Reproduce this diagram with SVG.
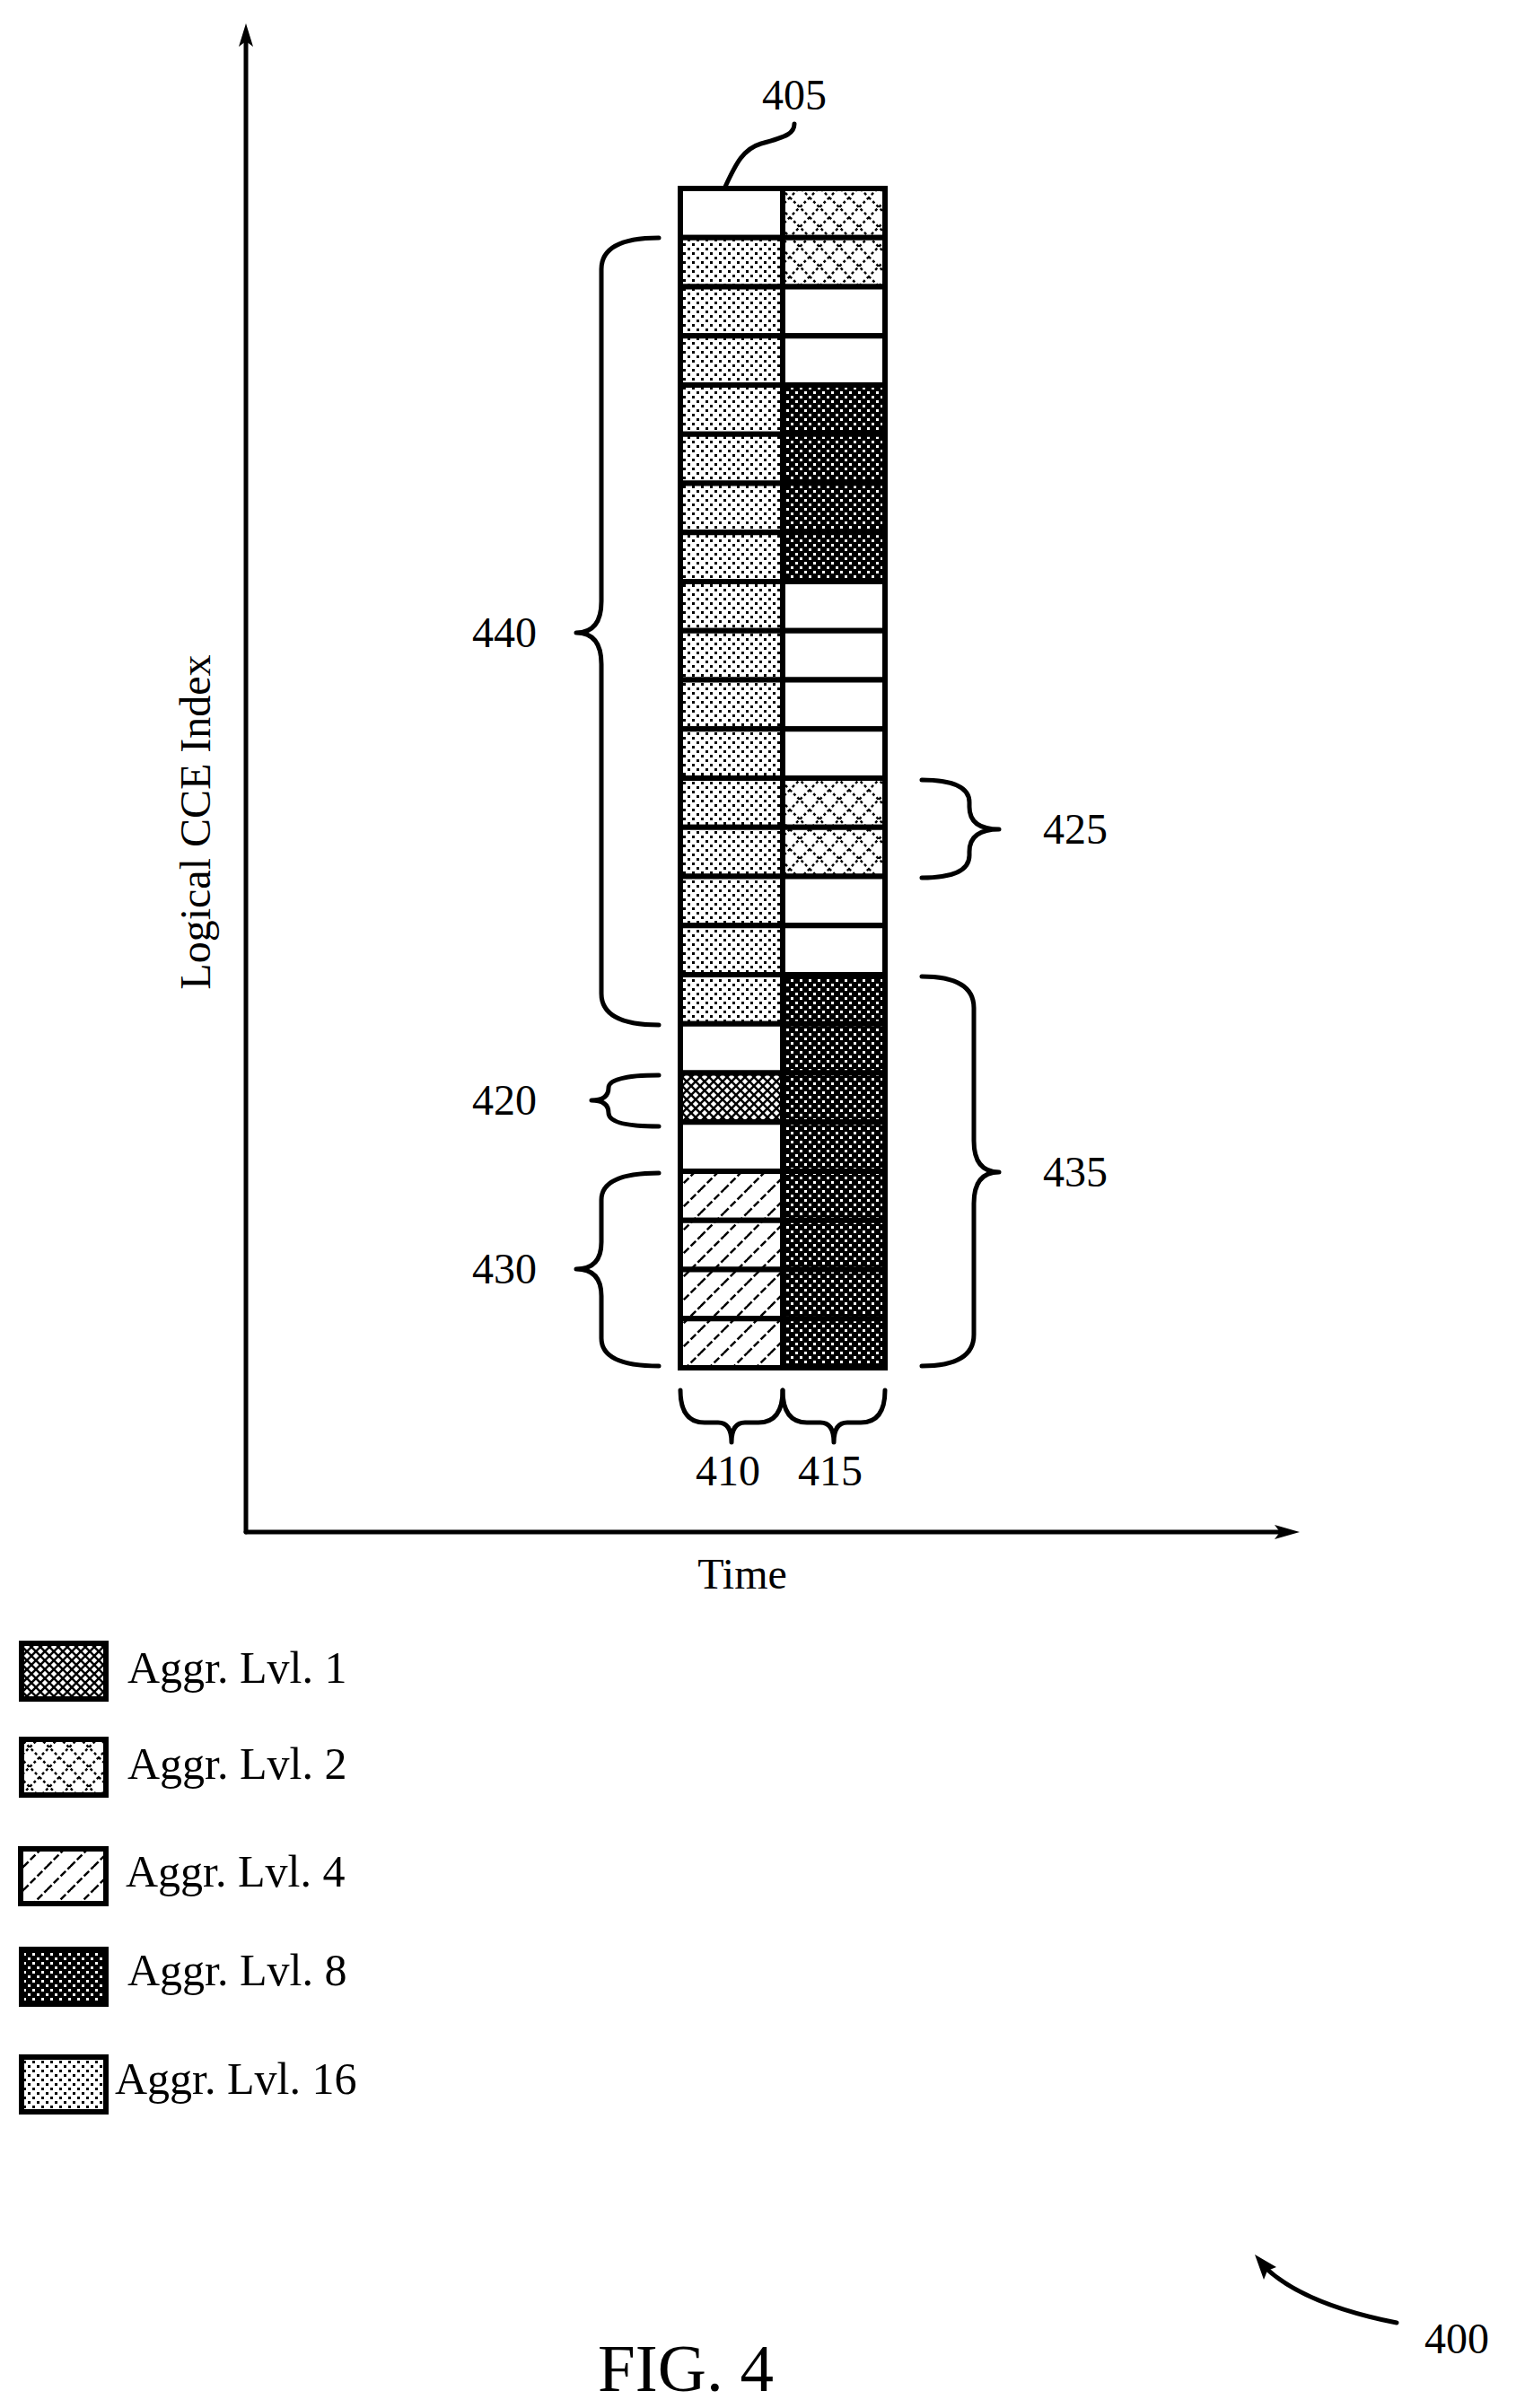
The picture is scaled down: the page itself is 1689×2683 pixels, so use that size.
<svg xmlns="http://www.w3.org/2000/svg" width="1689" height="2683" viewBox="0 0 1689 2683">
<style>
text{font-family:"Liberation Serif","Times New Roman",serif;fill:#000}
.lbl{font-size:48px}
.leg{font-size:50px}
.ln{fill:none;stroke:#000;stroke-width:5;stroke-linecap:round;stroke-linejoin:round}
.cell{stroke:#000;stroke-width:6}
</style>
<defs>
<pattern id="p16" patternUnits="userSpaceOnUse" width="10" height="10">
<rect width="10" height="10" fill="#fff"/><rect x="1" y="1" width="3" height="3" fill="#000"/><rect x="6" y="6" width="3" height="3" fill="#000"/>
</pattern>
<pattern id="p8" patternUnits="userSpaceOnUse" width="10" height="10">
<rect width="10" height="10" fill="#000"/><rect x="1" y="1" width="3" height="3" fill="#fff"/><rect x="6" y="6" width="3" height="3" fill="#fff"/>
</pattern>
<pattern id="p2" patternUnits="userSpaceOnUse" width="22" height="22">
<rect width="22" height="22" fill="#fff"/><path d="M0,0 L22,22 M22,0 L0,22" stroke="#000" stroke-width="2.5" stroke-dasharray="3,3"/>
</pattern>
<pattern id="p1" patternUnits="userSpaceOnUse" width="10" height="10">
<rect width="10" height="10" fill="#fff"/><path d="M0,0 L10,10 M10,0 L0,10 M-5,5 L5,15 M5,-5 L15,5" stroke="#000" stroke-width="2.5"/>
</pattern>
<pattern id="p4" patternUnits="userSpaceOnUse" width="26" height="26">
<rect width="26" height="26" fill="#fff"/><path d="M0,26 L26,0 M-13,13 L13,-13 M13,39 L39,13" stroke="#000" stroke-width="2.5" stroke-dasharray="8,3"/>
</pattern>
</defs>

<g id="axes">
<path d="M274,1707 L274,40" class="ln" stroke-width="6"/>
<path d="M266,52 L274,26 L282,52 L274,46 Z" fill="#000"/>
<path d="M274,1707 L1430,1707" class="ln" stroke-width="6"/>
<path d="M1420,1699 L1448,1707 L1420,1715 L1426,1707 Z" fill="#000"/>
<text class="lbl" x="827" y="1770" text-anchor="middle">Time</text>
<text class="lbl" x="234" y="916" text-anchor="middle" transform="rotate(-90 234 916)">Logical CCE Index</text>
</g>

<g id="grid">
<rect class="cell" x="758" y="210.0" width="114" height="54.75" fill="#fff"/><rect class="cell" x="872" y="210.0" width="114" height="54.75" fill="url(#p2)"/>
<rect class="cell" x="758" y="264.75" width="114" height="54.75" fill="url(#p16)"/><rect class="cell" x="872" y="264.75" width="114" height="54.75" fill="url(#p2)"/>
<rect class="cell" x="758" y="319.5" width="114" height="54.75" fill="url(#p16)"/><rect class="cell" x="872" y="319.5" width="114" height="54.75" fill="#fff"/>
<rect class="cell" x="758" y="374.25" width="114" height="54.75" fill="url(#p16)"/><rect class="cell" x="872" y="374.25" width="114" height="54.75" fill="#fff"/>
<rect class="cell" x="758" y="429.0" width="114" height="54.75" fill="url(#p16)"/><rect class="cell" x="872" y="429.0" width="114" height="54.75" fill="url(#p8)"/>
<rect class="cell" x="758" y="483.75" width="114" height="54.75" fill="url(#p16)"/><rect class="cell" x="872" y="483.75" width="114" height="54.75" fill="url(#p8)"/>
<rect class="cell" x="758" y="538.5" width="114" height="54.75" fill="url(#p16)"/><rect class="cell" x="872" y="538.5" width="114" height="54.75" fill="url(#p8)"/>
<rect class="cell" x="758" y="593.25" width="114" height="54.75" fill="url(#p16)"/><rect class="cell" x="872" y="593.25" width="114" height="54.75" fill="url(#p8)"/>
<rect class="cell" x="758" y="648.0" width="114" height="54.75" fill="url(#p16)"/><rect class="cell" x="872" y="648.0" width="114" height="54.75" fill="#fff"/>
<rect class="cell" x="758" y="702.75" width="114" height="54.75" fill="url(#p16)"/><rect class="cell" x="872" y="702.75" width="114" height="54.75" fill="#fff"/>
<rect class="cell" x="758" y="757.5" width="114" height="54.75" fill="url(#p16)"/><rect class="cell" x="872" y="757.5" width="114" height="54.75" fill="#fff"/>
<rect class="cell" x="758" y="812.25" width="114" height="54.75" fill="url(#p16)"/><rect class="cell" x="872" y="812.25" width="114" height="54.75" fill="#fff"/>
<rect class="cell" x="758" y="867.0" width="114" height="54.75" fill="url(#p16)"/><rect class="cell" x="872" y="867.0" width="114" height="54.75" fill="url(#p2)"/>
<rect class="cell" x="758" y="921.75" width="114" height="54.75" fill="url(#p16)"/><rect class="cell" x="872" y="921.75" width="114" height="54.75" fill="url(#p2)"/>
<rect class="cell" x="758" y="976.5" width="114" height="54.75" fill="url(#p16)"/><rect class="cell" x="872" y="976.5" width="114" height="54.75" fill="#fff"/>
<rect class="cell" x="758" y="1031.25" width="114" height="54.75" fill="url(#p16)"/><rect class="cell" x="872" y="1031.25" width="114" height="54.75" fill="#fff"/>
<rect class="cell" x="758" y="1086.0" width="114" height="54.75" fill="url(#p16)"/><rect class="cell" x="872" y="1086.0" width="114" height="54.75" fill="url(#p8)"/>
<rect class="cell" x="758" y="1140.75" width="114" height="54.75" fill="#fff"/><rect class="cell" x="872" y="1140.75" width="114" height="54.75" fill="url(#p8)"/>
<rect class="cell" x="758" y="1195.5" width="114" height="54.75" fill="url(#p1)"/><rect class="cell" x="872" y="1195.5" width="114" height="54.75" fill="url(#p8)"/>
<rect class="cell" x="758" y="1250.25" width="114" height="54.75" fill="#fff"/><rect class="cell" x="872" y="1250.25" width="114" height="54.75" fill="url(#p8)"/>
<rect class="cell" x="758" y="1305.0" width="114" height="54.75" fill="url(#p4)"/><rect class="cell" x="872" y="1305.0" width="114" height="54.75" fill="url(#p8)"/>
<rect class="cell" x="758" y="1359.75" width="114" height="54.75" fill="url(#p4)"/><rect class="cell" x="872" y="1359.75" width="114" height="54.75" fill="url(#p8)"/>
<rect class="cell" x="758" y="1414.5" width="114" height="54.75" fill="url(#p4)"/><rect class="cell" x="872" y="1414.5" width="114" height="54.75" fill="url(#p8)"/>
<rect class="cell" x="758" y="1469.25" width="114" height="54.75" fill="url(#p4)"/><rect class="cell" x="872" y="1469.25" width="114" height="54.75" fill="url(#p8)"/>
</g>

<g id="connectors">
<path class="ln" d="M808,208 C820,182 828,166 848,160 C878,152 885,148 885,138"/>
<path class="ln" d="M734,265 Q670,265 670,300 L670,670 Q670,705 642,705 Q670,705 670,740 L670,1107 Q670,1142 734,1142"/>
<path class="ln" d="M734,1198 Q678,1198 678,1212 Q678,1226 659,1226 Q678,1226 678,1240 Q678,1255 734,1255"/>
<path class="ln" d="M734,1307 Q670,1307 670,1337 L670,1384 Q670,1414 642,1414 Q670,1414 670,1444 L670,1491 Q670,1522 734,1522"/>
<path class="ln" d="M1027,869 Q1080,869 1080,894 L1080,899 Q1080,924 1113,924 Q1080,924 1080,949 L1080,953 Q1080,978 1027,978"/>
<path class="ln" d="M1027,1088 Q1085,1088 1085,1123 L1085,1271 Q1085,1306 1113,1306 Q1085,1306 1085,1341 L1085,1487 Q1085,1522 1027,1522"/>
<path class="ln" d="M758,1549 Q758,1585 785,1585 L800,1585 Q815,1585 815,1607 Q815,1585 830,1585 L845,1585 Q872,1585 872,1549"/>
<path class="ln" d="M872,1549 Q872,1585 899,1585 L914,1585 Q929,1585 929,1607 Q929,1585 944,1585 L959,1585 Q986,1585 986,1549"/>
<path class="ln" d="M1556,2588 C1490,2575 1440,2555 1410,2527"/>
<path d="M1398,2512 L1422,2526 L1412,2530 L1408,2540 Z" fill="#000"/>
</g>

<g id="labels">
<text class="lbl" x="885" y="122" text-anchor="middle">405</text>
<text class="lbl" x="562" y="721" text-anchor="middle">440</text>
<text class="lbl" x="1198" y="940" text-anchor="middle">425</text>
<text class="lbl" x="1198" y="1322" text-anchor="middle">435</text>
<text class="lbl" x="562" y="1242" text-anchor="middle">420</text>
<text class="lbl" x="562" y="1430" text-anchor="middle">430</text>
<text class="lbl" x="811" y="1655" text-anchor="middle">410</text>
<text class="lbl" x="925" y="1655" text-anchor="middle">415</text>
<text class="lbl" x="1623" y="2622" text-anchor="middle">400</text>
<text x="764" y="2664" text-anchor="middle" font-size="75">FIG. 4</text>
</g>

<g id="legend">
<rect class="cell" x="24" y="1831" width="94" height="62" fill="url(#p1)"/>
<text class="leg" x="142" y="1875">Aggr. Lvl. 1</text>
<rect class="cell" x="24" y="1938" width="94" height="62" fill="url(#p2)"/>
<text class="leg" x="142" y="1982">Aggr. Lvl. 2</text>
<rect class="cell" x="23" y="2060" width="95" height="61" fill="url(#p4)"/>
<text class="leg" x="140" y="2102">Aggr. Lvl. 4</text>
<rect class="cell" x="24" y="2172" width="94" height="61" fill="url(#p8)"/>
<text class="leg" x="142" y="2212">Aggr. Lvl. 8</text>
<rect class="cell" x="24" y="2292" width="94" height="61" fill="url(#p16)"/>
<text class="leg" x="128" y="2333">Aggr. Lvl. 16</text>
</g>
</svg>
